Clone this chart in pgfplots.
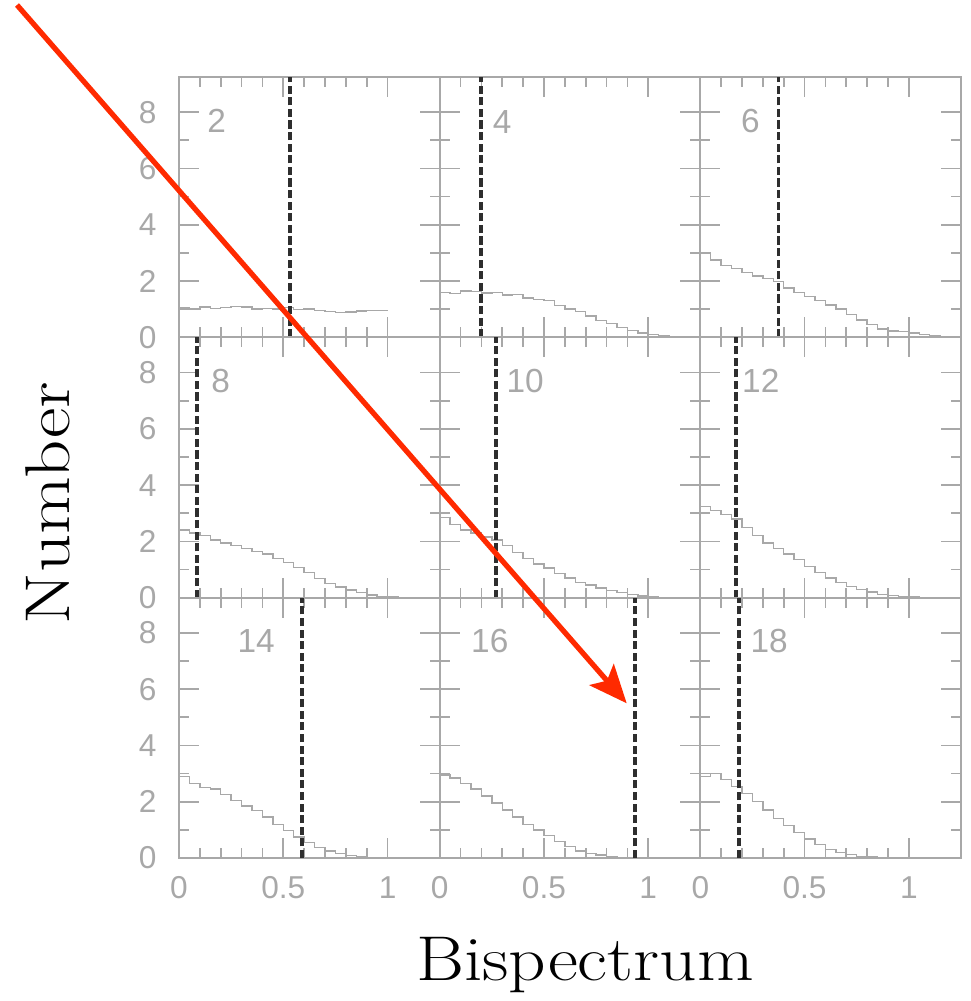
\documentclass[border=0pt]{standalone}
\usepackage{fontspec}
\usepackage{pgfplots}
\pgfplotsset{compat=1.18}
\usetikzlibrary{arrows.meta}
\newfontfamily\tickfont{Liberation Sans}

\definecolor{axgray}{HTML}{A8A8A8}
\definecolor{labgray}{HTML}{A8A8A8}
\definecolor{histgray}{HTML}{A8A8A8}
\definecolor{dashcol}{HTML}{2E2E2E}
\definecolor{arrowred}{HTML}{FF2A00}

\tikzset{num/.style={font=\tickfont\fontsize{9.5}{10}\selectfont, text=labgray}}

\pgfplotsset{
  panel/.style={
    scale only axis,
    width=2.607cm, height=2.603cm,
    anchor=south west,
    xmin=0, xmax=1.25, ymin=0, ymax=9.25,
    xtick={0,0.5,1}, ytick={0,2,4,6,8},
    minor x tick num=4, minor y tick num=1,
    tick align=inside,
    major tick length=0.2cm, minor tick length=0.1cm,
    axis line style={draw=axgray, line width=0.6pt},
    tick style={draw=axgray, line width=0.5pt},
    tick label style={font=\tickfont\fontsize{9}{10}\selectfont, text=labgray},
    /pgf/number format/assume math mode=true,
    xticklabel style={yshift=-0.06cm},
    yticklabel style={xshift=-0.1cm},
    xticklabels={}, yticklabels={},
    clip=false,
  },
  leftcol/.style={yticklabels={0,2,4,6,8}},
  bottomrow/.style={xticklabels={0,0.5,1}},
  hist/.style={const plot, draw=histgray, line width=0.4pt, mark=none},
  cut/.style={draw=dashcol, line width=1.1pt, dash pattern=on 2.3pt off 1pt, mark=none},
}

\begin{document}
\begin{tikzpicture}
\useasboundingbox (0,0) rectangle (9.71,10.01);

% row 1
\begin{axis}[panel, leftcol, at={(1.79cm,6.637cm)}]
\addplot[hist] coordinates {(0,1.05) (0.05,1.0) (0.1,1.08) (0.15,1.02) (0.2,1.06) (0.25,1.1) (0.3,1.08) (0.35,1.0) (0.4,1.03) (0.45,1.0) (0.5,1.05) (0.55,0.98) (0.6,1.0) (0.65,0.96) (0.7,0.92) (0.75,0.88) (0.8,0.9) (0.85,0.94) (0.9,0.96) (0.95,0.95) (1.0,0.95)};
\addplot[cut] coordinates {(0.534,0) (0.534,9.25)};
\node[num] at (axis cs:0.18,7.7) {2};
\end{axis}

\begin{axis}[panel, at={(4.397cm,6.637cm)}]
\addplot[hist] coordinates {(0,1.6) (0.05,1.55) (0.1,1.65) (0.15,1.62) (0.2,1.58) (0.25,1.6) (0.3,1.5) (0.35,1.52) (0.4,1.4) (0.45,1.35) (0.5,1.3) (0.55,1.12) (0.6,1.0) (0.65,0.92) (0.7,0.75) (0.75,0.6) (0.8,0.5) (0.85,0.35) (0.9,0.25) (0.95,0.15) (1.0,0.1) (1.05,0.05) (1.1,0.02) (1.15,0) (1.25,0)};
\addplot[cut] coordinates {(0.197,0) (0.197,9.25)};
\node[num] at (axis cs:0.3,7.65) {4};
\end{axis}

\begin{axis}[panel, at={(7.003cm,6.637cm)}]
\addplot[hist] coordinates {(0,3.0) (0.05,2.75) (0.1,2.55) (0.15,2.45) (0.2,2.3) (0.25,2.18) (0.3,2.1) (0.35,1.98) (0.4,1.75) (0.45,1.6) (0.5,1.45) (0.55,1.3) (0.6,1.15) (0.65,1.0) (0.7,0.8) (0.75,0.62) (0.8,0.45) (0.85,0.3) (0.9,0.22) (0.95,0.2) (1.0,0.15) (1.05,0.1) (1.1,0.05) (1.15,0.02) (1.2,0) (1.25,0)};
\addplot[cut] coordinates {(0.375,0) (0.375,9.25)};
\node[num] at (axis cs:0.24,7.7) {6};
\end{axis}

% row 2
\begin{axis}[panel, leftcol, at={(1.79cm,4.033cm)}]
\addplot[hist] coordinates {(0,2.4) (0.05,2.3) (0.1,2.2) (0.15,2.05) (0.2,1.95) (0.25,1.85) (0.3,1.75) (0.35,1.65) (0.4,1.55) (0.45,1.4) (0.5,1.25) (0.55,1.08) (0.6,0.9) (0.65,0.68) (0.7,0.5) (0.75,0.38) (0.8,0.28) (0.85,0.18) (0.9,0.1) (0.95,0.05) (1.0,0.02) (1.05,0) (1.25,0)};
\addplot[cut] coordinates {(0.087,0) (0.087,9.25)};
\node[num] at (axis cs:0.2,7.7) {8};
\end{axis}

\begin{axis}[panel, at={(4.397cm,4.033cm)}]
\addplot[hist] coordinates {(0,2.85) (0.05,2.6) (0.1,2.4) (0.15,2.3) (0.2,2.15) (0.25,2.05) (0.3,1.85) (0.35,1.6) (0.4,1.4) (0.45,1.2) (0.5,1.05) (0.55,0.85) (0.6,0.7) (0.65,0.55) (0.7,0.45) (0.75,0.35) (0.8,0.25) (0.85,0.18) (0.9,0.12) (0.95,0.06) (1.0,0.03) (1.05,0) (1.25,0)};
\addplot[cut] coordinates {(0.27,0) (0.27,9.25)};
\node[num] at (axis cs:0.41,7.7) {10};
\end{axis}

\begin{axis}[panel, at={(7.003cm,4.033cm)}]
\addplot[hist] coordinates {(0,3.25) (0.05,3.1) (0.1,2.95) (0.15,2.8) (0.2,2.5) (0.25,2.2) (0.3,1.95) (0.35,1.75) (0.4,1.55) (0.45,1.35) (0.5,1.1) (0.55,0.9) (0.6,0.7) (0.65,0.55) (0.7,0.4) (0.75,0.3) (0.8,0.2) (0.85,0.12) (0.9,0.08) (0.95,0.04) (1.0,0.02) (1.05,0) (1.25,0)};
\addplot[cut] coordinates {(0.173,0) (0.173,9.25)};
\node[num] at (axis cs:0.29,7.7) {12};
\end{axis}

% row 3
\begin{axis}[panel, leftcol, bottomrow, at={(1.79cm,1.43cm)}]
\addplot[hist] coordinates {(0,2.9) (0.05,2.65) (0.1,2.5) (0.15,2.45) (0.2,2.25) (0.25,2.05) (0.3,1.85) (0.35,1.68) (0.4,1.45) (0.45,1.2) (0.5,0.98) (0.55,0.75) (0.6,0.55) (0.65,0.38) (0.7,0.25) (0.75,0.15) (0.8,0.08) (0.85,0.04) (0.9,0.02) (0.95,0) (1.25,0)};
\addplot[cut] coordinates {(0.59,0) (0.59,9.25)};
\node[num] at (axis cs:0.37,7.7) {14};
\end{axis}

\begin{axis}[panel, bottomrow, at={(4.397cm,1.43cm)}]
\addplot[hist] coordinates {(0,2.95) (0.05,2.85) (0.1,2.65) (0.15,2.45) (0.2,2.2) (0.25,1.95) (0.3,1.7) (0.35,1.45) (0.4,1.2) (0.45,1.0) (0.5,0.8) (0.55,0.58) (0.6,0.4) (0.65,0.25) (0.7,0.15) (0.75,0.1) (0.8,0.05) (0.85,0.02) (0.9,0) (1.25,0)};
\addplot[cut] coordinates {(0.9375,0) (0.9375,9.25)};
\node[num] at (axis cs:0.24,7.7) {16};
\end{axis}

\begin{axis}[panel, bottomrow, at={(7.003cm,1.43cm)}]
\addplot[hist] coordinates {(0,2.9) (0.05,3.0) (0.1,2.8) (0.15,2.55) (0.2,2.3) (0.25,2.0) (0.3,1.7) (0.35,1.4) (0.4,1.15) (0.45,0.9) (0.5,0.68) (0.55,0.48) (0.6,0.3) (0.65,0.2) (0.7,0.12) (0.75,0.06) (0.8,0.03) (0.85,0) (1.25,0)};
\addplot[cut] coordinates {(0.1875,0) (0.1875,9.25)};
\node[num] at (axis cs:0.33,7.7) {18};
\end{axis}

\node[font=\fontsize{18}{20}\selectfont] at (5.85,0.36) {\scalebox{1.16}[1.0]{Bispectrum}};
\node[font=\fontsize{18}{20}\selectfont, rotate=90] at (0.48,4.98) {\scalebox{1.18}[1.0]{Number}};

\draw[arrowred, line width=1.5pt, -{Stealth[length=0.38cm, width=0.32cm, inset=0.08cm]}] (0.17,9.96) -- (6.267,2.977);
\end{tikzpicture}
\end{document}
